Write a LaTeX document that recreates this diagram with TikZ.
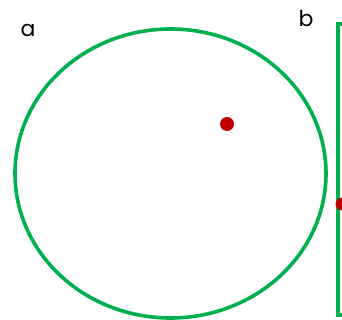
\documentclass[tikz,border=0pt]{standalone}
\usepackage{fontspec}
\setmainfont{Poppins}
\usetikzlibrary{shapes.geometric}
\definecolor{ogreen}{HTML}{00B050}
\definecolor{ored}{HTML}{C00000}
\begin{document}
\begin{tikzpicture}[x=1pt,y=-1pt,
  outline/.style={draw=ogreen,line width=3.6pt,inner sep=0pt},
  dot/.style={circle,fill=ored,inner sep=0pt,minimum size=14pt},
  lbl/.style={anchor=base,font=\fontsize{22}{24}\selectfont,inner sep=0pt}]
\useasboundingbox (0,0) rectangle (342,320);
\clip (0,0) rectangle (342,320);
\fill[white] (0,0) rectangle (342,320);
\node[outline,ellipse,minimum width=311pt,minimum height=289pt] (ell) at (170.5,173.5) {};
\node[dot] (p1) at (227,124) {};
\node[outline,rectangle,minimum width=30pt,minimum height=291pt,anchor=north west] (rect) at (336,22) {};
\node[dot,minimum size=13pt] (p2) at (342,204) {};
\node[lbl] (a) at (28,37) {a};
\node[lbl] (b) at (306,27) {b};
\end{tikzpicture}
\end{document}
